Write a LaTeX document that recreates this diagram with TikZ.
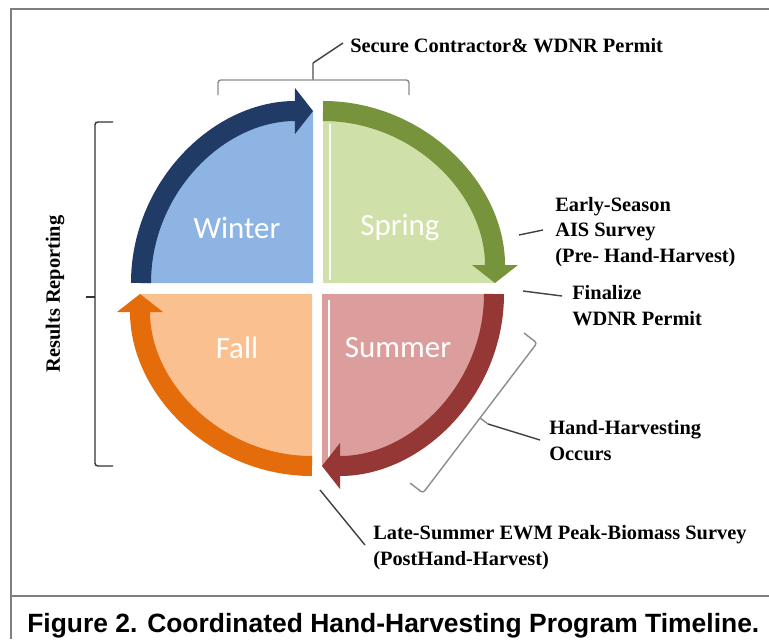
\documentclass[tikz,border=0pt]{standalone}
\usepackage{fontspec}
\setmainfont{Liberation Serif}
\newfontfamily\calibri{Carlito}
\newfontfamily\arialfont{Liberation Sans}
\usetikzlibrary{arrows.meta}

\definecolor{winterfill}{HTML}{8EB4E3}
\definecolor{winterband}{HTML}{1F3B66}
\definecolor{springfill}{HTML}{CFE0A8}
\definecolor{springband}{HTML}{77933C}
\definecolor{summerfill}{HTML}{DC9E9C}
\definecolor{summerband}{HTML}{953735}
\definecolor{fallfill}{HTML}{FAC090}
\definecolor{fallband}{HTML}{E46C0A}
\definecolor{framegray}{HTML}{7F7F7F}

\tikzset{
  season/.style={font=\calibri\fontsize{22}{26}\selectfont, text=white},
  note/.style={font=\bfseries\fontsize{14.5}{17.8}\selectfont, align=left, inner sep=0pt, anchor=base west},
  band/.style={line width=0.5cm, -{Triangle[length=0.45cm,width=1.15cm,line width=0pt]}},
  brace/.style={draw=black!45, line width=1pt, rounded corners=2pt},
  lead/.style={draw=black!75, line width=1pt},
}

\begin{document}
\begin{tikzpicture}[x=0.025cm,y=0.025cm]
\useasboundingbox (0,0) rectangle (769,-639);
% frame and caption rule
\draw[framegray, line width=2pt] (769,-9) -- (11,-9) -- (11,-639);
\draw[framegray, line width=2pt] (11,-596) -- (769,-596);

% quarters
\fill[winterfill] (313,-283) -- (141,-283) arc[start angle=180, end angle=90, radius=172] -- cycle;
\fill[springfill] (323,-283) -- (323,-111) arc[start angle=90, end angle=0, radius=172] -- cycle;
\fill[summerfill] (322,-294) -- (494,-294) arc[start angle=0, end angle=-90, radius=172] -- cycle;
\fill[fallfill] (312,-294) -- (312,-466) arc[start angle=-90, end angle=-180, radius=172] -- cycle;
\draw[white, line width=1.2pt] (330,-124) -- (330,-280);
\draw[white, line width=1.2pt] (329,-300) -- (329,-458);

% arrows round the year
\draw[band, winterband] (141,-283) arc[start angle=180, end angle=90, radius=172];
\draw[band, springband] (323,-111) arc[start angle=90, end angle=0, radius=172];
\draw[band, summerband] (494,-294) arc[start angle=0, end angle=-90, radius=172];
\draw[band, fallband] (312,-466) arc[start angle=-90, end angle=-180, radius=172];

\node[season] (winter) at (237,-228) {Winter};
\node[season] (spring) at (400,-228) {Spring};
\node[season] (fall) at (237,-348) {Fall};
\node[season] (summer) at (398,-348) {Summer};

% notes (base = last line)
\node[note] (secure) at (350,-52) {Secure Contractor\& WDNR Permit};
\node[note] (ais) at (555,-262) {Early-Season\\AIS Survey\\(Pre- Hand-Harvest)};
\node[note] (finalize) at (572,-325) {Finalize\\WDNR Permit};
\node[note] (harvest) at (549,-460) {Hand-Harvesting\\Occurs};
\node[note] (latesummer) at (373,-565) {Late-Summer EWM Peak-Biomass Survey\\(PostHand-Harvest)};
\node[font=\bfseries\fontsize{14.5}{17.8}\selectfont, rotate=90] (results) at (55,-294) {Results Reporting};

% brackets
\coordinate (topmid) at (313,-80);
\coordinate (toptick) at (313,-63);
\draw[brace] (218,-95) |- (topmid) -| (409,-95);
\draw[brace] (topmid) -- (toptick);
\draw[lead] (toptick) -- (343,-43);

\coordinate (leftmid) at (95,-297);
\draw[brace, black!80] (113,-122) -| (leftmid) |- (113,-466);
\draw[brace, black!80] (leftmid) -- (86,-297);

\coordinate (hhtop) at (537,-343);
\coordinate (hhbot) at (423,-493);
\coordinate (hhmid) at (480,-418);
\draw[brace] (524,-333) -- (hhtop) -- (hhbot) -- (410,-483);
\draw[brace] (hhmid) -- (488,-424);
\draw[lead] (488,-424) -- (540,-440);

\coordinate (aisend) at (519,-235);
\draw[lead] (aisend) -- (543,-230);
\coordinate (finend) at (523,-291);
\draw[lead] (finend) -- (562,-296);
\coordinate (lateend) at (320,-490);
\draw[lead] (lateend) -- (365,-545);

% caption
\node[font=\arialfont\bfseries\fontsize{18.8}{22}\selectfont, anchor=base west, inner sep=0pt] (caption) at (27,-632)
  {Figure 2. Coordinated Hand-Harvesting Program Timeline.};
\end{tikzpicture}
\end{document}
